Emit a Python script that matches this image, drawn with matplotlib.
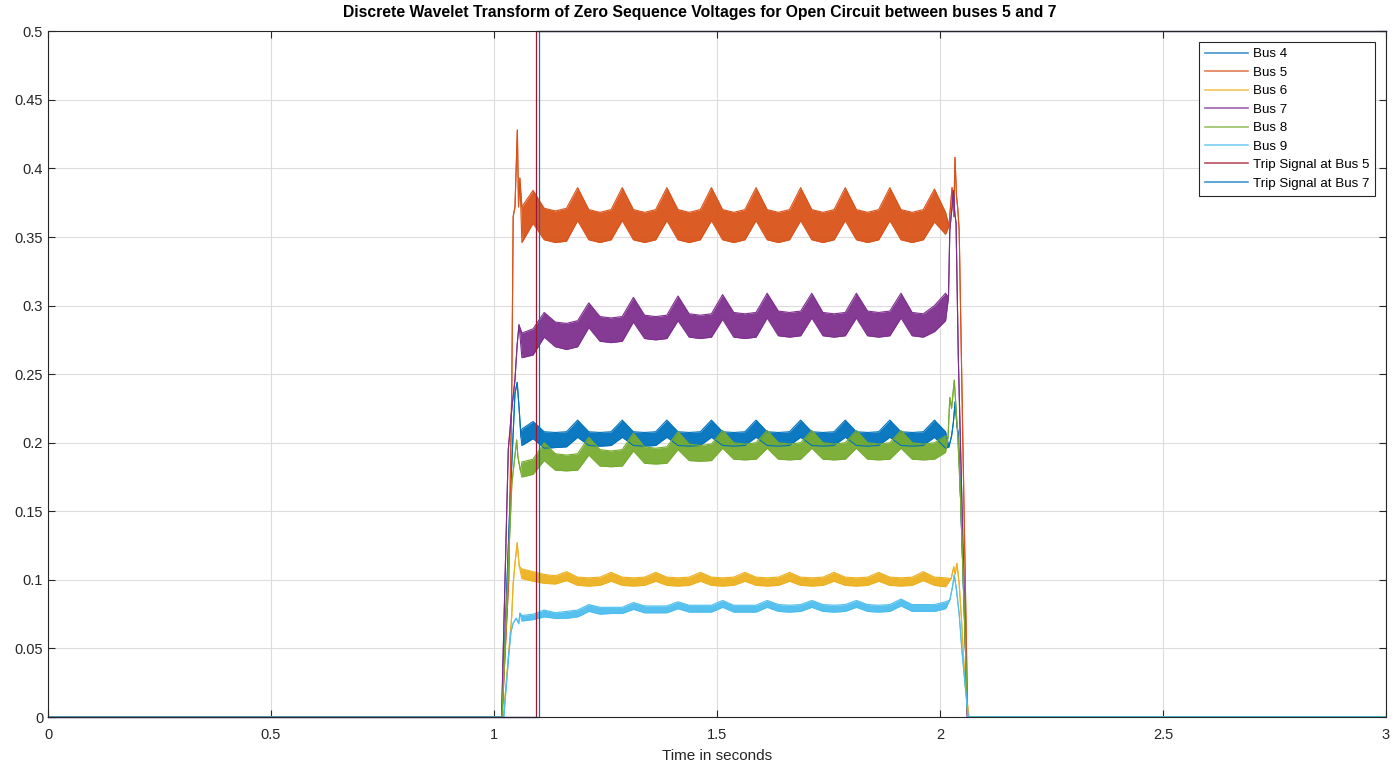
import matplotlib
matplotlib.use("Agg")
import matplotlib.pyplot as plt

plt.rcParams['font.family'] = ['Liberation Sans', 'DejaVu Sans']

# sampling grid of the steady part (upper / lower edge of the ripple band)
t_band = [1.0625, 1.0875, 1.1125, 1.1375, 1.1625, 1.1875, 1.2125, 1.2375, 1.2625, 1.2875,
          1.3125, 1.3375, 1.3625, 1.3875, 1.4125, 1.4375, 1.4625, 1.4875, 1.5125, 1.5375,
          1.5625, 1.5875, 1.6125, 1.6375, 1.6625, 1.6875, 1.7125, 1.7375, 1.7625, 1.7875,
          1.8125, 1.8375, 1.8625, 1.8875, 1.9125, 1.9375, 1.9625, 1.9875, 2.0125]

# Bus 4
b4_pre_t = [0, 1.018, 1.035, 1.047, 1.052, 1.0565, 1.0605]
b4_pre_v = [0, 0, 0.15, 0.236, 0.244, 0.224, 0.204]
b4_up = [0.210, 0.2155, 0.208, 0.2075, 0.208, 0.2165, 0.208, 0.2075, 0.208, 0.2165,
         0.208, 0.2075, 0.208, 0.2165, 0.208, 0.2075, 0.208, 0.2165, 0.208, 0.2075,
         0.208, 0.2165, 0.208, 0.2075, 0.208, 0.2165, 0.208, 0.2075, 0.208, 0.2165,
         0.208, 0.2075, 0.208, 0.2165, 0.208, 0.2075, 0.208, 0.2165, 0.208]
b4_lo = [0.198, 0.203, 0.196, 0.1965, 0.197, 0.204, 0.198, 0.1975, 0.198, 0.204,
         0.198, 0.1975, 0.198, 0.204, 0.198, 0.1975, 0.198, 0.204, 0.198, 0.1975,
         0.198, 0.204, 0.198, 0.1975, 0.198, 0.204, 0.198, 0.1975, 0.198, 0.204,
         0.198, 0.1975, 0.198, 0.204, 0.198, 0.1975, 0.198, 0.204, 0.196]
b4_post_t = [2.02, 2.026, 2.030, 2.034, 2.038, 2.041, 2.046, 2.062, 3.0]
b4_post_v = [0.197, 0.205, 0.215, 0.230, 0.212, 0.207, 0.16, 0, 0]

# Bus 5
b5_pre_t = [0, 1.018, 1.033, 1.040, 1.043, 1.047, 1.0523, 1.055, 1.058]
b5_pre_v = [0, 0, 0.10, 0.245, 0.365, 0.372, 0.428, 0.372, 0.393]
b5_up = [0.372, 0.384, 0.371, 0.369, 0.371, 0.386, 0.370, 0.368, 0.370, 0.386,
         0.370, 0.368, 0.370, 0.386, 0.370, 0.368, 0.370, 0.386, 0.370, 0.368,
         0.370, 0.386, 0.370, 0.368, 0.370, 0.386, 0.370, 0.368, 0.370, 0.386,
         0.370, 0.368, 0.370, 0.386, 0.370, 0.368, 0.370, 0.385, 0.368]
b5_lo = [0.346, 0.360, 0.348, 0.346, 0.347, 0.362, 0.348, 0.346, 0.348, 0.362,
         0.348, 0.346, 0.348, 0.362, 0.348, 0.346, 0.348, 0.362, 0.348, 0.346,
         0.348, 0.362, 0.348, 0.346, 0.348, 0.362, 0.348, 0.346, 0.348, 0.362,
         0.348, 0.346, 0.348, 0.362, 0.348, 0.346, 0.348, 0.361, 0.352]
b5_post_t = [2.02, 2.027, 2.031, 2.0336, 2.037, 2.040, 2.043, 2.062, 3.0]
b5_post_v = [0.358, 0.386, 0.365, 0.408, 0.38, 0.37, 0.355, 0, 0]

# Bus 6
b6_pre_t = [0, 1.021, 1.0396, 1.043, 1.047, 1.052, 1.0565]
b6_pre_v = [0, 0, 0.073, 0.0975, 0.112, 0.127, 0.11]
b6_up = [0.108, 0.106, 0.104, 0.103, 0.106, 0.102, 0.1015, 0.102, 0.1055, 0.102,
         0.1015, 0.102, 0.1055, 0.102, 0.1015, 0.102, 0.1055, 0.102, 0.1015, 0.102,
         0.1055, 0.102, 0.1015, 0.102, 0.1055, 0.102, 0.1015, 0.102, 0.1055, 0.102,
         0.1015, 0.102, 0.1055, 0.102, 0.1015, 0.102, 0.106, 0.102, 0.1015]
b6_lo = [0.101, 0.099, 0.0975, 0.097, 0.0995, 0.096, 0.0955, 0.096, 0.099, 0.096,
         0.0955, 0.096, 0.099, 0.096, 0.0955, 0.096, 0.099, 0.096, 0.0955, 0.096,
         0.099, 0.096, 0.0955, 0.096, 0.099, 0.096, 0.0955, 0.096, 0.099, 0.096,
         0.0955, 0.096, 0.099, 0.096, 0.0955, 0.096, 0.0995, 0.096, 0.095]
b6_post_t = [2.025, 2.031, 2.034, 2.038, 2.043, 2.048, 2.056, 2.065, 3.0]
b6_post_v = [0.101, 0.1095, 0.104, 0.112, 0.097, 0.072, 0.025, 0, 0]

# Bus 7
b7_pre_t = [0, 1.017, 1.032, 1.040, 1.047, 1.052, 1.056]
b7_pre_v = [0, 0, 0.195, 0.225, 0.246, 0.272, 0.286]
b7_up = [0.280, 0.283, 0.295, 0.288, 0.287, 0.289, 0.302, 0.292, 0.291, 0.292,
         0.306, 0.293, 0.292, 0.293, 0.307, 0.294, 0.293, 0.294, 0.308, 0.295,
         0.294, 0.295, 0.309, 0.296, 0.295, 0.296, 0.309, 0.295, 0.294, 0.295,
         0.309, 0.296, 0.295, 0.296, 0.309, 0.295, 0.294, 0.300, 0.309]
b7_lo = [0.262, 0.264, 0.277, 0.270, 0.268, 0.270, 0.284, 0.274, 0.273, 0.274,
         0.288, 0.276, 0.275, 0.276, 0.289, 0.277, 0.276, 0.277, 0.290, 0.277,
         0.276, 0.277, 0.291, 0.278, 0.277, 0.278, 0.291, 0.278, 0.277, 0.278,
         0.291, 0.278, 0.277, 0.278, 0.291, 0.278, 0.277, 0.281, 0.289]
b7_post_t = [2.019, 2.022, 2.027, 2.030, 2.033, 2.036, 2.041, 2.061, 3.0]
b7_post_v = [0.306, 0.355, 0.372, 0.384, 0.368, 0.36, 0.263, 0, 0]

# Bus 8
b8_pre_t = [0, 1.018, 1.040, 1.0508, 1.0535, 1.0595]
b8_pre_v = [0, 0, 0.17, 0.202, 0.19, 0.179]
b8_up = [0.186, 0.188, 0.200, 0.192, 0.191, 0.192, 0.204, 0.195, 0.194, 0.195,
         0.207, 0.197, 0.196, 0.197, 0.208, 0.199, 0.198, 0.199, 0.209, 0.200,
         0.199, 0.200, 0.209, 0.200, 0.199, 0.200, 0.209, 0.200, 0.199, 0.200,
         0.209, 0.200, 0.199, 0.200, 0.209, 0.200, 0.199, 0.200, 0.205]
b8_lo = [0.175, 0.177, 0.187, 0.180, 0.1795, 0.180, 0.191, 0.183, 0.1825, 0.183,
         0.194, 0.185, 0.1845, 0.185, 0.195, 0.187, 0.1865, 0.187, 0.196, 0.188,
         0.1875, 0.188, 0.196, 0.188, 0.1875, 0.188, 0.196, 0.188, 0.1875, 0.188,
         0.196, 0.188, 0.1875, 0.188, 0.196, 0.188, 0.1875, 0.188, 0.193]
b8_post_t = [2.018, 2.022, 2.026, 2.032, 2.036, 2.040, 2.046, 2.062, 3.0]
b8_post_v = [0.204, 0.233, 0.225, 0.2456, 0.225, 0.204, 0.16, 0, 0]

# Bus 9
b9_pre_t = [0, 1.022, 1.033, 1.038, 1.043, 1.05, 1.0555, 1.058]
b9_pre_v = [0, 0, 0.045, 0.062, 0.0685, 0.072, 0.068, 0.0758]
b9_up = [0.074, 0.075, 0.078, 0.076, 0.077, 0.078, 0.082, 0.080, 0.080, 0.080,
         0.0835, 0.081, 0.081, 0.081, 0.084, 0.0815, 0.0815, 0.0815, 0.085, 0.0815,
         0.0815, 0.0815, 0.085, 0.082, 0.0815, 0.082, 0.085, 0.082, 0.0815, 0.082,
         0.085, 0.082, 0.0815, 0.082, 0.086, 0.082, 0.082, 0.082, 0.084]
b9_lo = [0.070, 0.071, 0.073, 0.072, 0.072, 0.073, 0.077, 0.075, 0.0755, 0.0755,
         0.0785, 0.076, 0.076, 0.076, 0.079, 0.0765, 0.0765, 0.0765, 0.080, 0.0765,
         0.0765, 0.0765, 0.080, 0.077, 0.0765, 0.077, 0.080, 0.077, 0.0765, 0.077,
         0.080, 0.077, 0.0765, 0.077, 0.081, 0.077, 0.077, 0.077, 0.079]
b9_post_t = [2.022, 2.028, 2.032, 2.037, 2.043, 2.049, 2.063, 3.0]
b9_post_v = [0.0853, 0.095, 0.1035, 0.0926, 0.075, 0.049, 0, 0]

# trip signals
trip5_t = [0, 1.0951, 1.0951, 3.0]
trip5_v = [0, 0, 0.5, 0.5]
trip7_t = [0, 1.1005, 1.1005, 3.0]
trip7_v = [0, 0, 0.5, 0.5]

buses = [
    ("Bus 4", "#0072BD", b4_pre_t, b4_pre_v, b4_up, b4_lo, b4_post_t, b4_post_v),
    ("Bus 5", "#D95319", b5_pre_t, b5_pre_v, b5_up, b5_lo, b5_post_t, b5_post_v),
    ("Bus 6", "#EDB120", b6_pre_t, b6_pre_v, b6_up, b6_lo, b6_post_t, b6_post_v),
    ("Bus 7", "#7E2F8E", b7_pre_t, b7_pre_v, b7_up, b7_lo, b7_post_t, b7_post_v),
    ("Bus 8", "#77AC30", b8_pre_t, b8_pre_v, b8_up, b8_lo, b8_post_t, b8_post_v),
    ("Bus 9", "#4DBEEE", b9_pre_t, b9_pre_v, b9_up, b9_lo, b9_post_t, b9_post_v),
]

fig = plt.figure(figsize=(14, 7.64), dpi=100)
ax = fig.add_axes([0.0343, 0.0615, 0.9557, 0.8975])

for name, col, pre_t, pre_v, up, lo, post_t, post_v in buses:
    t = pre_t + t_band + post_t
    upper = pre_v + up + post_v
    lower = pre_v + lo + post_v
    ax.fill_between(t, lower, upper, color=col, lw=0, alpha=0.95)
    ax.plot(t, upper, color=col, lw=0.8, label=name)
    ax.plot(t, lower, color=col, lw=0.8)

ax.plot(trip5_t, trip5_v, color="#A2142F", lw=0.9, label="Trip Signal at Bus 5", clip_on=False)
ax.plot(trip7_t, trip7_v, color="#0072BD", lw=0.9, label="Trip Signal at Bus 7", clip_on=False)

ax.set_xlim(0, 3)
ax.set_ylim(0, 0.5)
ax.set_xticks([0, 0.5, 1, 1.5, 2, 2.5, 3])
ax.set_xticklabels(["0", "0.5", "1", "1.5", "2", "2.5", "3"])
ax.set_yticks([0, 0.05, 0.1, 0.15, 0.2, 0.25, 0.3, 0.35, 0.4, 0.45, 0.5])
ax.set_yticklabels(["0", "0.05", "0.1", "0.15", "0.2", "0.25", "0.3", "0.35", "0.4", "0.45", "0.5"])
ax.grid(True, color="#dcdcdc", lw=0.8)
ax.set_axisbelow(True)
ax.tick_params(direction="in", length=5, width=0.8, colors="#262626", labelsize=10.5,
               top=True, right=True)
ax.tick_params(axis="x", pad=8)
for sp in ax.spines.values():
    sp.set_color("#262626")
    sp.set_linewidth(0.8)

# title is centred on the figure, not on the axes
ax.set_title("Discrete Wavelet Transform of Zero Sequence Voltages for Open Circuit between buses 5 and 7",
             fontsize=11.3, fontweight="bold", pad=10, x=0.4873)
ax.set_xlabel("Time in seconds", fontsize=11, color="#262626", labelpad=5)

leg = ax.legend(loc="upper right", fontsize=9.6, handlelength=3.2, handletextpad=0.4,
                labelspacing=0.46, borderaxespad=0.8, fancybox=False, framealpha=1,
                borderpad=0.45)
leg.get_frame().set_edgecolor("#262626")
leg.get_frame().set_linewidth(0.8)
for ln in leg.get_lines():
    ln.set_linewidth(1.2)
    ln.set_alpha(0.75)

fig.savefig("out.png", dpi=100)
